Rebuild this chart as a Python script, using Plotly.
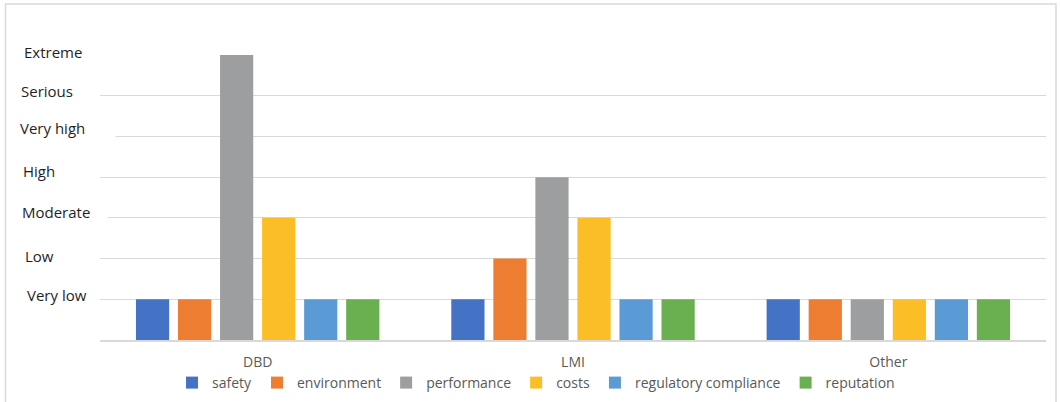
import plotly.graph_objects as go

categories = ["DBD", "LMI", "Other"]
series_names = ["safety", "environment", "performance", "costs", "regulatory compliance", "reputation"]
safety = [1, 1, 1]
environment = [1, 2, 1]
performance = [7, 4, 1]
costs = [3, 3, 1]
regulatory = [1, 1, 1]
reputation = [1, 1, 1]
level_labels = ["Very low", "Low", "Moderate", "High", "Very high", "Serious", "Extreme"]
level_values = [1, 2, 3, 4, 5, 6, 7]

series_values = [safety, environment, performance, costs, regulatory, reputation]
colors = ["#4472C4", "#ED7D31", "#9C9E9F", "#FBBE26", "#5B9BD5", "#6AAF50"]

W, H = 1061, 402
L, R, T, B = 100, 15, 55, 62
pw = W - L - R
ph = H - T - B
FONT = "Open Sans, Liberation Sans, sans-serif"

fig = go.Figure()
for name, vals, c in zip(series_names, series_values, colors):
    fig.add_trace(go.Bar(x=categories, y=vals, name=name, marker_color=c,
                         marker_line_width=0))

# label x offsets (px from left of figure), y shifts, and white box right edge (covers gridline)
label_x = [25, 23, 21, 21, 19, 19, 22]
label_shift = [4, 3, 6, 6, 8, 5, 3]
box_right = [None, None, 108, None, 116, None, None]
annotations = []
for lab, v, xp, ys, br in zip(level_labels, level_values, label_x, label_shift, box_right):
    a = dict(text=lab, x=(xp - L) / pw, xref="paper", y=v, yref="y",
             yshift=ys, xanchor="left", yanchor="middle", showarrow=False, align="left",
             font=dict(size=15, color="#1f1f1f", family=FONT))
    if br is not None:
        a.update(bgcolor="white", width=br - xp - 2, borderpad=0)
    annotations.append(a)

fig.update_layout(
    width=W, height=H,
    margin=dict(l=L, r=R, t=T, b=B, autoexpand=False),
    paper_bgcolor="white", plot_bgcolor="white",
    barmode="group", bargap=0.2, bargroupgap=0.21,
    font=dict(family=FONT, size=14, color="#595959"),
    xaxis=dict(showgrid=False, showline=True, linecolor="#D9D9D9", linewidth=1.5,
               ticks="", ticklabelstandoff=8, automargin=False,
               tickfont=dict(size=14, color="#595959")),
    yaxis=dict(range=[0, 7], dtick=1, showgrid=True, gridcolor="#D9D9D9", gridwidth=1.2,
               showticklabels=False, zeroline=False, fixedrange=True, automargin=False),
    legend=dict(orientation="h", x=(172 - L) / pw, xanchor="left",
                y=-(383 - (H - B)) / ph, yanchor="middle",
                font=dict(size=14, color="#595959"), itemwidth=30, traceorder="normal",
                itemclick=False, bgcolor="rgba(0,0,0,0)"),
    annotations=annotations,
    shapes=[dict(type="rect", xref="paper", yref="paper",
                 x0=(5.5 - L) / pw, x1=(1056 - L) / pw,
                 y0=(H - 410 - B) / ph, y1=(H - 4 - B) / ph,
                 line=dict(color="#D9D9D9", width=1.5), fillcolor="rgba(0,0,0,0)", layer="below")],
    showlegend=True,
)

fig.write_html("out.html")
